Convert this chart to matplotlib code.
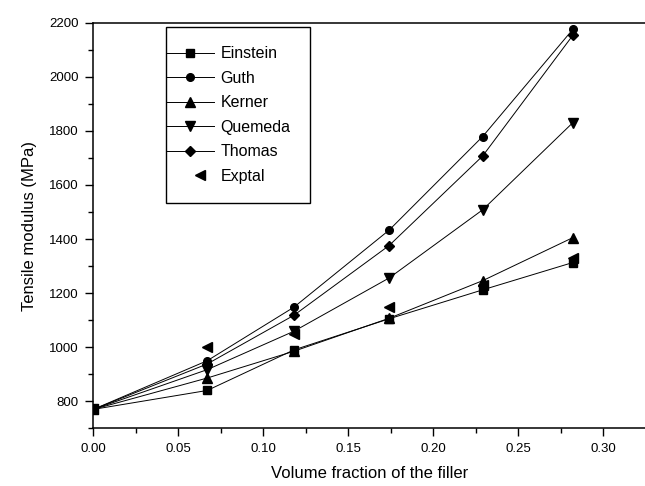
import numpy as np
import matplotlib
matplotlib.use("Agg")
import matplotlib.pyplot as plt
from matplotlib.legend_handler import HandlerLine2D
from matplotlib.ticker import MultipleLocator, FormatStrFormatter

plt.rcParams["font.family"] = ["Liberation Sans", "DejaVu Sans"]

# volume fraction of filler
phi = [0.0, 0.067, 0.118, 0.174, 0.229, 0.282]

# tensile modulus (MPa) per model
einstein = [770, 840, 990, 1105, 1212, 1313]
guth = [770, 950, 1148, 1433, 1779, 2175]
kerner = [770, 886, 985, 1107, 1246, 1405]
quemeda = [770, 917, 1059, 1256, 1508, 1830]
thomas = [770, 938, 1118, 1376, 1707, 2153]
exptal = [770, 1000, 1050, 1150, 1230, 1330]

series = [
    ("Einstein", einstein, "s", 5.5),
    ("Guth", guth, "o", 5.5),
    ("Kerner", kerner, "^", 6.5),
    ("Quemeda", quemeda, "v", 6.5),
    ("Thomas", thomas, "D", 5.5),
]


class EdgeLineHandler(HandlerLine2D):
    """Legend line that runs out to the left edge of the legend frame."""

    def __init__(self, extend, **kw):
        super().__init__(**kw)
        self.extend = extend

    def get_xdata(self, legend, xdescent, ydescent, width, height, fontsize):
        x0 = -xdescent - self.extend * fontsize
        x1 = -xdescent + width
        return np.array([x0, x1]), np.array([0.5 * (x0 + x1)])


fig = plt.figure(figsize=(6.45, 4.86), dpi=100)
ax = fig.add_axes([0.1447, 0.1187, 0.8553, 0.8346])

handles = []
for name, vals, mk, ms in series:
    (ln,) = ax.plot(phi, vals, color="black", lw=0.7, marker=mk, ms=ms,
                    mfc="black", mec="black", label=name)
    handles.append(ln)
(ex,) = ax.plot(phi, exptal, ls="none", marker="<", ms=6.5, color="black",
                label="Exptal")
handles.append(ex)

ax.set_xlim(0, 0.3245)
ax.set_ylim(700, 2200)
ax.xaxis.set_major_locator(MultipleLocator(0.05))
ax.xaxis.set_minor_locator(MultipleLocator(0.025))
ax.xaxis.set_major_formatter(FormatStrFormatter("%.2f"))
ax.yaxis.set_major_locator(MultipleLocator(200))
ax.yaxis.set_minor_locator(MultipleLocator(100))
ax.set_yticks(np.arange(800, 2201, 200))

ax.tick_params(which="both", direction="out", top=False, right=False,
               labelsize=9.5, width=1.0, color="black")
ax.tick_params(which="major", length=6, pad=4.5)
ax.tick_params(which="minor", length=3.5)
ax.spines["right"].set_visible(False)
for s in ("left", "bottom", "top"):
    ax.spines[s].set_linewidth(1.1)

ax.set_xlabel("Volume fraction of the filler", fontsize=12, labelpad=8)
ax.set_ylabel("Tensile modulus (MPa)", fontsize=12, labelpad=9)

pad = 1.2
leg = ax.legend(handles=handles, loc="upper left",
                bbox_to_anchor=(0.1318, 0.9894), borderaxespad=0,
                fontsize=11.5, frameon=True, fancybox=False, framealpha=1,
                edgecolor="black", borderpad=pad, labelspacing=0.6,
                handlelength=1.8, handletextpad=0.4, numpoints=1,
                handler_map={h: EdgeLineHandler(pad) for h in handles[:-1]})
leg.get_frame().set_linewidth(1.0)

fig.savefig("out.png", dpi=100)
